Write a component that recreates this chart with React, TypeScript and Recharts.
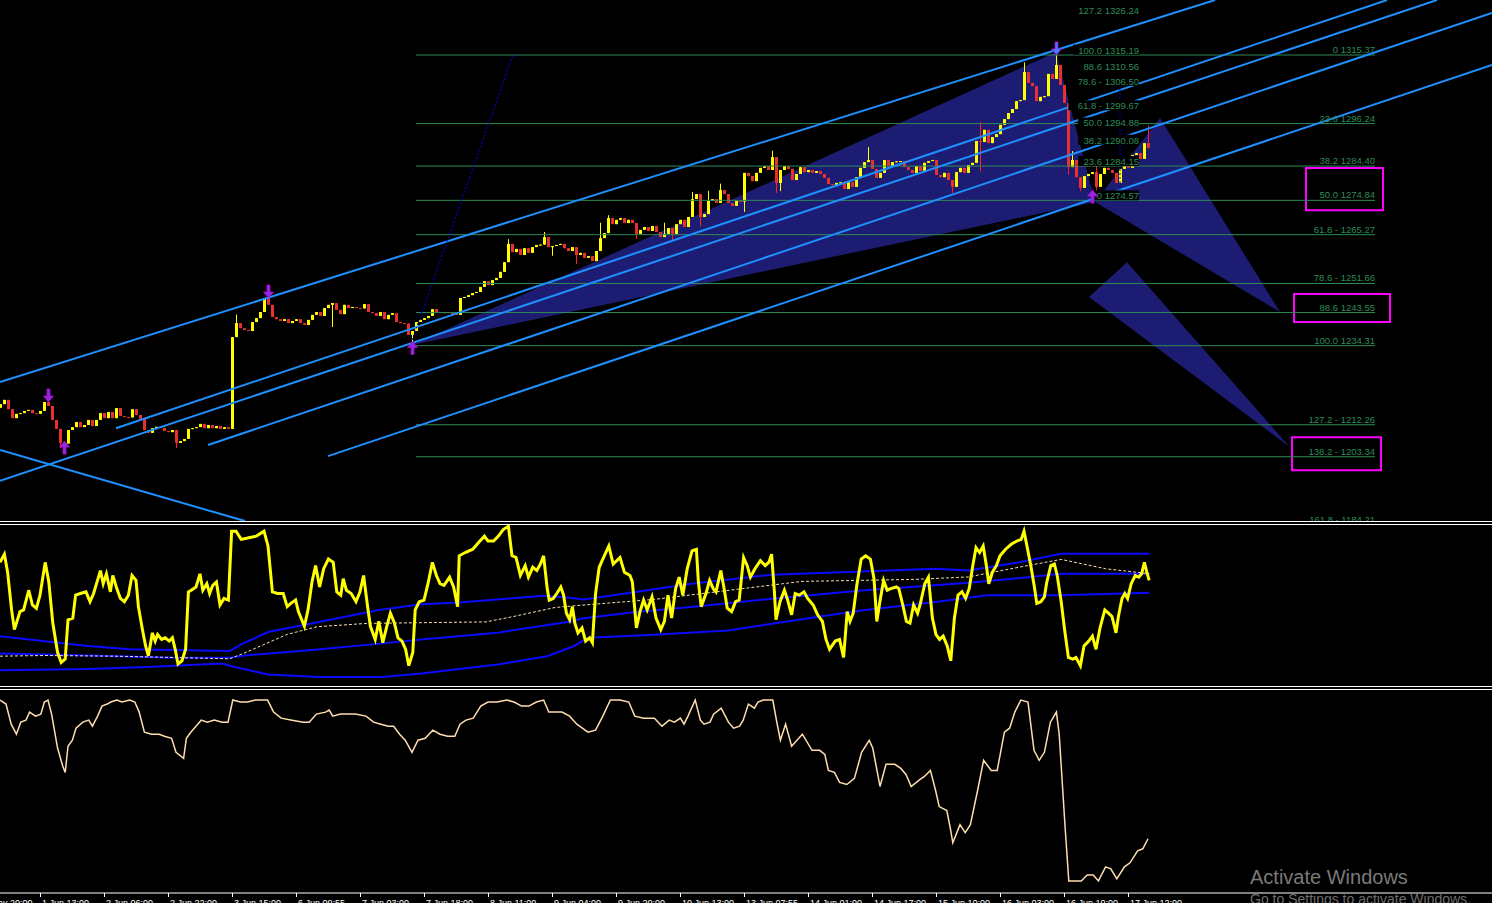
import { ComposedChart, Bar, Line, XAxis, YAxis, ReferenceLine, ReferenceArea, ReferenceDot } from 'recharts';

const FONT = '"Liberation Sans", Arial, sans-serif';

// ---------- price panel: one H1 candle every 4px ----------
const firstOpen = 1217.0;
const closes = [
  1218.0, 1219.2, 1216.6, 1214.1, 1215.3, 1215.5, 1216.1, 1216.4, 1215.5, 1215.3,
  1216.1, 1218.6, 1217.5, 1213.6, 1211.1, 1207.2, 1207.0, 1210.8, 1211.6, 1213.0,
  1211.6, 1212.2, 1213.6, 1211.9, 1213.6, 1215.5, 1214.1, 1215.8, 1214.1, 1216.9,
  1214.7, 1214.4, 1214.3, 1216.6, 1215.0, 1213.9, 1210.8, 1210.0, 1211.3, 1211.7,
  1211.4, 1210.5, 1210.2, 1210.8, 1207.2, 1207.7, 1208.3, 1211.1, 1211.3, 1211.6,
  1212.5, 1211.3, 1212.2, 1211.3, 1211.9, 1211.1, 1211.6, 1211.1, 1236.7, 1240.6,
  1239.2, 1238.7, 1238.4, 1240.9, 1242.0, 1243.7, 1247.6, 1245.7, 1242.3, 1241.7,
  1241.2, 1241.7, 1240.6, 1241.2, 1241.7, 1240.6, 1240.1, 1241.5, 1242.9, 1243.7,
  1242.6, 1244.8, 1245.7, 1246.2, 1244.3, 1243.1, 1245.7, 1244.8, 1245.1, 1244.8,
  1244.7, 1245.9, 1243.7, 1243.4, 1242.6, 1243.7, 1241.7, 1242.9, 1243.4, 1240.9,
  1240.6, 1240.5, 1237.3, 1238.4, 1240.9, 1241.5, 1242.0, 1242.6, 1244.5, 1243.7,
  1243.4, 1243.7, 1243.4, 1243.3, 1242.9, 1247.6, 1247.9, 1248.4, 1249.0, 1249.3,
  1250.7, 1252.3, 1251.2, 1252.6, 1253.2, 1254.9, 1257.6, 1262.7, 1260.4, 1261.3,
  1259.6, 1261.5, 1260.2, 1261.8, 1262.4, 1262.5, 1264.6, 1261.8, 1262.1, 1262.4,
  1262.7, 1261.5, 1260.7, 1261.8, 1259.6, 1260.2, 1258.8, 1259.3, 1257.9, 1260.7,
  1264.3, 1265.7, 1269.9, 1268.2, 1269.4, 1269.9, 1268.5, 1269.4, 1268.5, 1265.5,
  1266.6, 1267.4, 1266.3, 1267.7, 1266.0, 1264.6, 1265.5, 1267.1, 1265.5, 1268.2,
  1269.4, 1267.4, 1270.2, 1275.2, 1276.6, 1270.2, 1271.0, 1274.7, 1275.2, 1274.1,
  1277.7, 1276.6, 1274.1, 1273.3, 1274.7, 1274.5, 1282.5, 1281.6, 1280.2, 1282.5,
  1283.9, 1284.4, 1283.3, 1286.9, 1279.7, 1283.3, 1284.4, 1283.6, 1280.5, 1282.2,
  1284.1, 1282.7, 1283.3, 1282.5, 1283.0, 1282.2, 1281.1, 1279.4, 1279.1, 1279.7,
  1279.9, 1278.0, 1279.9, 1278.6, 1281.3, 1283.9, 1285.5, 1286.1, 1283.6, 1281.1,
  1282.5, 1286.1, 1284.4, 1285.5, 1285.7, 1285.8, 1284.1, 1283.3, 1282.5, 1284.4,
  1283.0, 1285.3, 1285.8, 1286.1, 1281.9, 1281.3, 1282.5, 1280.5, 1278.6, 1282.7,
  1283.9, 1282.5, 1284.7, 1285.3, 1291.4, 1291.1, 1294.5, 1290.8, 1292.5, 1293.3,
  1295.9, 1297.5, 1299.2, 1300.3, 1302.5, 1302.8, 1310.6, 1307.6, 1306.7, 1302.5,
  1303.7, 1303.9, 1310.1, 1308.7, 1312.6, 1307.0, 1302.0, 1284.1, 1286.1, 1281.3,
  1278.3, 1281.6, 1282.2, 1282.7, 1278.6, 1282.2, 1283.9, 1283.3, 1282.5, 1279.7,
  1283.6, 1285.0, 1283.9, 1287.5, 1288.0, 1286.4, 1290.8, 1289.4,
];
// shadows that stick out of the body: [bar, price]
const highShadows: [number, number][] = [
  [12, 1220.5], [59, 1243.0], [67, 1249.3], [127, 1264.0], [136, 1266.0], [150, 1268.6],
  [152, 1270.7], [166, 1268.6], [173, 1277.2], [177, 1277.5], [180, 1279.5], [193, 1288.7],
  [217, 1289.7], [245, 1296.7], [256, 1313.3], [264, 1315.3], [268, 1288.6], [274, 1286.9],
  [287, 1295.7],
];
const lowShadows: [number, number][] = [
  [15, 1205.8], [44, 1205.8], [83, 1239.5], [103, 1234.3], [138, 1259.4], [144, 1257.1],
  [159, 1264.1], [168, 1263.5], [175, 1267.6], [186, 1271.6], [194, 1276.9], [195, 1277.4],
  [238, 1276.9], [245, 1282.9], [267, 1282.0], [270, 1277.4], [274, 1274.6], [286, 1287.0],
];

const fibLevels = [1315.37, 1296.24, 1284.4, 1274.84, 1265.27, 1251.66, 1243.55, 1234.31, 1212.26, 1203.34, 1184.21];
const fibTexts = ['0 1315.37', '23.6 1296.24', '38.2 1284.40', '50.0 1274.84', '61.8 - 1265.27', '78.6 - 1251.66',
  '88.6 1243.55', '100.0 1234.31', '127.2 - 1212.26', '138.2 - 1203.34', '161.8 - 1184.21'];
const swingLevels = [1326.24, 1315.19, 1310.56, 1306.5, 1299.67, 1294.88, 1290.08, 1284.16, 1274.57];
const swingTexts = ['127.2 1326.24', '100.0 1315.19', '88.6 1310.56', '78.6 - 1306.50', '61.8 - 1299.67',
  '50.0 1294.88', '38.2 1290.08', '23.6 1284.15', '0 1274.57'];

// channel lines [bar1, price1, bar2, price2]
const channels: [number, number, number, number][] = [
  [0, 1224.2, 303.75, 1330.7],
  [29, 1211.3, 346.75, 1330.7],
  [0, 1196.6, 359.25, 1330.7],
  [52, 1206.6, 373, 1327.1],
  [82, 1203.5, 373, 1312.6],
  [0, 1205.2, 61.25, 1185.4],
];
const harmonics: [number, number][][] = [
  [[103, 1234.5], [264, 1316.2], [273.75, 1274.4]],
  [[273.75, 1274.4], [290, 1297.8], [320, 1243.7]],
  [[272.25, 1247.9], [281.75, 1257.6], [322.5, 1206.0]],
];
const targetBoxes: [number, number, number, number][] = [
  [326.5, 1272.1, 345.75, 1283.85],
  [323.5, 1240.9, 347.5, 1248.7],
  [323, 1199.6, 345.25, 1208.8],
];
const pivots = [
  { bar: 12, price: 1218.6, dir: 'down', color: '#8a2be2' },
  { bar: 16, price: 1207.7, dir: 'up', color: '#8a2be2' },
  { bar: 67, price: 1247.6, dir: 'down', color: '#8a2be2' },
  { bar: 103, price: 1235.5, dir: 'up', color: '#8a2be2' },
  { bar: 264, price: 1315.4, dir: 'down', color: '#3b7dff' },
  { bar: 273, price: 1277.7, dir: 'up', color: '#8a2be2' },
];

// ---------- oscillator panel ----------
const rsi: [number, number][] = [
  [0, 76], [1.1, 81], [1.9, 70], [2.9, 47], [3.6, 35], [5.0, 46], [5.9, 47], [7.2, 59], [8.1, 50], [9.1, 48],
  [10.0, 56], [11.3, 76], [12.2, 64], [13.2, 39], [14.4, 21], [15.3, 15], [16.3, 17], [17.0, 41], [18.2, 42], [18.9, 56],
  [20.1, 57], [21.5, 58], [22.5, 52], [23.4, 57], [25.1, 71], [25.8, 63], [26.6, 69], [27.6, 58], [28.2, 68], [29.2, 60],
  [30.1, 54], [31.1, 52], [32.1, 56], [33.0, 68], [34.0, 65], [34.6, 49], [35.6, 35], [36.4, 25], [37.1, 19], [38.1, 33],
  [38.8, 28], [39.4, 32], [40.4, 29], [41.3, 30], [42.3, 28], [43.1, 30], [43.8, 23], [44.5, 14], [45.5, 16], [46.4, 23],
  [47.1, 58], [47.8, 59], [49.0, 61], [50.0, 69], [50.7, 59], [51.7, 63], [52.4, 57], [53.2, 62], [54.1, 64], [55.0, 50],
  [56.0, 54], [57.1, 53], [57.9, 95], [59.0, 95], [60.3, 90], [62.2, 91], [64.1, 92], [66.0, 95], [67.0, 86], [68.1, 58],
  [69.4, 57], [70.8, 57], [71.8, 49], [72.7, 51], [73.9, 53], [74.6, 46], [76.1, 37], [77.0, 47], [78.0, 64], [78.9, 74],
  [79.9, 61], [80.9, 72], [82.1, 78], [83.3, 76], [84.2, 58], [85.2, 56], [85.8, 66], [86.6, 59], [87.8, 57], [89.0, 52],
  [90.0, 58], [90.9, 68], [91.9, 49], [92.6, 37], [93.8, 29], [94.7, 40], [95.7, 27], [96.7, 37], [97.6, 45], [98.6, 39],
  [99.5, 30], [100.5, 28], [101.4, 23], [102.2, 13], [103.2, 21], [103.8, 47], [104.8, 52], [106.0, 53], [107.0, 63], [108.1, 76],
  [109.1, 68], [110.0, 63], [111.0, 62], [112.4, 67], [113.4, 61], [114.4, 49], [114.8, 80], [116.3, 82], [118.2, 84], [119.6, 88],
  [121.1, 92], [122.0, 89], [123.4, 89], [124.6, 92], [125.8, 96], [127.1, 98], [128.0, 80], [129.0, 79], [130.1, 68], [131.3, 74],
  [132.1, 67], [133.2, 73], [134.2, 71], [135.1, 75], [135.9, 80], [136.8, 60], [137.3, 53], [138.3, 54], [139.2, 57], [140.2, 61],
  [140.9, 56], [141.6, 45], [142.4, 41], [143.1, 49], [143.7, 39], [144.5, 33], [145.5, 36], [146.4, 28], [147.4, 30], [148.1, 27],
  [148.9, 57], [149.8, 73], [150.7, 78], [152.2, 86], [153.3, 75], [155.0, 79], [156.1, 70], [157.5, 68], [158.1, 64], [159.1, 36],
  [160.0, 46], [160.9, 53], [161.8, 47], [163.0, 55], [164.0, 42], [165.2, 35], [166.1, 40], [167.0, 56], [167.9, 42], [168.9, 60],
  [169.8, 67], [170.7, 56], [171.8, 72], [173.0, 83], [174.1, 84], [174.6, 64], [175.3, 49], [176.5, 57], [177.4, 65], [178.3, 60],
  [179.0, 58], [180.2, 71], [181.1, 59], [181.8, 48], [182.9, 46], [183.9, 52], [184.8, 53], [185.9, 79], [186.8, 74], [187.6, 67],
  [188.7, 72], [190.1, 77], [191.3, 74], [192.2, 76], [192.9, 81], [193.6, 58], [194.0, 41], [195.0, 52], [196.1, 59], [196.8, 54],
  [197.9, 44], [198.8, 57], [199.8, 56], [201.0, 58], [201.9, 54], [203.3, 50], [204.4, 44], [205.6, 40], [206.5, 29], [207.4, 23],
  [208.8, 28], [209.9, 29], [210.9, 18], [211.8, 46], [212.5, 40], [213.3, 45], [214.2, 62], [215.3, 78], [216.4, 80], [217.6, 78],
  [218.5, 66], [219.2, 40], [220.1, 54], [220.9, 65], [221.8, 59], [222.7, 60], [224.1, 61], [224.7, 60], [225.7, 50], [226.6, 40],
  [227.5, 39], [228.4, 50], [229.4, 45], [230.1, 51], [231.2, 63], [232.1, 67], [233.1, 42], [234.0, 32], [234.9, 29], [235.8, 31],
  [236.8, 25], [237.7, 16], [238.6, 42], [239.5, 56], [240.5, 58], [241.4, 54], [242.3, 60], [243.2, 74], [244.0, 85], [244.9, 82],
  [245.8, 86], [246.6, 74], [247.2, 63], [248.1, 70], [249.1, 74], [250.0, 80], [251.4, 84], [252.8, 87], [254.2, 89], [255.3, 90],
  [256.0, 95], [256.9, 84], [257.7, 74], [258.6, 61], [259.2, 51], [260.2, 52], [261.1, 55], [261.7, 64], [262.7, 74], [263.6, 75],
  [264.3, 68], [265.3, 52], [266.2, 34], [267.1, 18], [268.2, 17], [269.0, 18], [270.1, 13], [271.0, 25], [272.2, 28], [273.1, 31],
  [274.0, 23], [275.0, 36], [276.2, 47], [277.1, 45], [278.0, 43], [279.0, 33], [279.6, 43], [280.5, 54], [281.2, 57], [281.9, 54],
  [282.8, 63], [283.8, 68], [284.7, 67], [285.4, 69], [286.1, 76], [286.7, 70], [287.3, 65],
];
const bandUpper: [number, number][] = [
  [0, 31], [22, 25], [32.5, 23], [57.4, 22], [61.2, 27], [67, 33.5], [78.5, 39], [94.7, 47], [105.3, 50.5], [114.8, 51.5],
  [127.3, 54], [135.9, 55.6], [141.6, 54.6], [146, 53.4], [158.9, 57.9], [172.8, 63], [193.1, 68.5], [215.3, 70.5],
  [233.8, 72.1], [242.1, 71.1], [255.1, 76.2], [265.3, 81.3], [287.3, 81.3],
];
const bandMiddle: [number, number][] = [
  [0, 20.4], [22, 19.2], [44, 17.8], [57.4, 17.8], [61.2, 19.2], [79.4, 22.9], [95.7, 26.6], [105.3, 29], [124.4, 33.1],
  [143.5, 40.3], [145, 41.6], [158.9, 45.7], [172.8, 48.8], [193.1, 53.8], [215.3, 58.9], [233.8, 62], [242.1, 63.6],
  [255.1, 66.4], [265.3, 69.1], [287.3, 69.1],
];
const bandLower: [number, number][] = [
  [0, 10.2], [22, 11], [38.3, 12.3], [55.5, 14.3], [58.4, 12.3], [67, 7.6], [79.4, 6.1], [95.7, 6.1], [105.3, 8.2],
  [124.4, 13.7], [136.8, 18.8], [143.5, 25], [147, 30], [163.5, 31.9], [182, 34.5], [204.2, 42.7], [215.3, 46.7],
  [233.8, 51.8], [246.8, 55.9], [265.3, 55.9], [287.3, 57.5],
];
const signalLine: [number, number][] = [
  [0, 18.8], [11.5, 19.2], [28.7, 18.8], [57.4, 17.2], [61.2, 20.8], [67, 27], [71.8, 32.1], [79.4, 36.8], [91.9, 38.8],
  [105.3, 39.2], [121.5, 39.7], [128.2, 42.9], [138.8, 48.5], [145, 49.8], [163.5, 53.4], [182, 58.9], [200.5, 64.4],
  [228.3, 65.6], [242.1, 67.1], [255.1, 73.2], [265.3, 77.8], [276.4, 72.1], [287.3, 69.1],
];

// ---------- lower panel ----------
const momentum: [number, number][] = [
  [0, 95], [1.5, 93], [2.8, 83], [4.1, 78], [5.2, 84], [6.5, 85], [7.4, 89], [8.9, 87], [10.2, 88], [11.1, 94],
  [12.0, 95], [12.9, 88], [14.4, 71], [15.7, 62], [16.3, 59], [17.0, 72], [18.1, 75], [19.0, 81], [20.7, 84], [22.2, 85],
  [23.1, 82], [24.4, 87], [25.5, 92], [26.8, 93], [27.7, 94], [29.2, 95], [30.5, 94], [32.4, 95], [33.7, 94], [34.8, 89],
  [36.1, 79], [37.9, 78], [39.8, 78], [41.1, 77], [42.9, 76], [44.0, 69], [45.9, 66], [46.6, 76], [47.7, 79], [49.0, 82],
  [50.3, 85], [51.8, 84], [53.6, 85], [55.5, 84], [57.0, 84], [58.2, 95], [60.1, 94], [61.9, 94], [63.8, 95], [66.9, 95],
  [68.4, 89], [70.3, 86], [73.0, 85], [75.8, 84], [77.3, 84], [79.1, 88], [81.4, 89], [82.3, 90], [83.2, 87], [85.1, 88],
  [86.5, 88], [88.8, 88], [91.5, 87], [93.4, 84], [95.2, 83], [97.1, 82], [98.4, 82], [99.9, 78], [101.3, 75], [103.0, 69],
  [104.5, 75], [106.3, 76], [108.2, 80], [110.0, 78], [111.9, 77], [113.7, 77], [115.0, 83], [116.5, 85], [118.3, 86], [120.2, 92],
  [122.0, 94], [124.3, 94], [126.7, 95], [128.5, 94], [130.4, 92], [132.2, 92], [134.1, 94], [135.9, 95], [137.2, 89], [139.1, 89],
  [140.5, 89], [142.4, 87], [144.2, 83], [147.0, 79], [148.9, 80], [150.7, 87], [152.6, 95], [155.0, 95], [157.2, 94], [158.7, 87],
  [160.9, 86], [163.6, 86], [165.5, 82], [167.3, 85], [168.6, 84], [170.1, 86], [171.0, 83], [172.0, 87], [173.8, 95], [175.1, 85],
  [176.0, 83], [177.5, 84], [178.4, 88], [180.3, 91], [182.1, 84], [183.4, 81], [184.9, 82], [185.8, 85], [187.1, 93], [188.6, 91],
  [189.5, 94], [190.8, 95], [193.2, 95], [194.2, 84], [195.1, 75], [196.4, 83], [197.9, 72], [200.6, 78], [203.0, 70], [204.9, 70],
  [206.2, 68], [207.1, 60], [208.6, 59], [209.9, 54], [211.7, 53], [213.6, 56], [215.4, 69], [217.3, 75], [218.2, 71], [220.0, 52],
  [221.5, 63], [223.7, 63], [225.2, 61], [226.5, 58], [227.8, 52], [229.7, 55], [231.1, 57], [232.6, 60], [233.9, 50], [234.8, 42],
  [236.7, 40], [237.6, 31], [238.2, 24], [240.0, 33], [241.3, 29], [242.6, 33], [244.5, 51], [245.9, 65], [247.8, 60], [249.3, 60],
  [251.1, 79], [252.4, 81], [253.7, 89], [255.2, 95], [257.0, 94], [258.5, 70], [259.8, 65], [261.1, 69], [262.6, 84], [264.1, 89],
  [264.8, 78], [266.3, 31], [267.2, 5], [270.3, 5], [271.8, 8], [273.3, 8], [274.6, 5], [276.4, 12], [277.7, 11], [279.2, 6],
  [281.1, 12], [282.5, 14], [284.4, 20], [285.7, 21], [287.0, 26],
];

const tickBars = [-6, 10, 26, 42, 58, 74, 90, 106, 122, 138, 154, 170, 186, 202, 218, 234, 250, 266, 282];
const tickLabels = ['31 May 20:00', '1 Jun 13:00', '2 Jun 06:00', '2 Jun 22:00', '3 Jun 15:00', '6 Jun 09:55', '7 Jun 03:00',
  '7 Jun 18:00', '8 Jun 11:00', '9 Jun 04:00', '9 Jun 20:00', '10 Jun 13:00', '13 Jun 07:55', '14 Jun 01:00', '14 Jun 17:00',
  '15 Jun 10:00', '16 Jun 03:00', '16 Jun 19:00', '17 Jun 12:00'];

const candles = closes.map((c, i) => {
  const o = i === 0 ? firstOpen : closes[i - 1];
  const hs = highShadows.find((s) => s[0] === i);
  const ls = lowShadows.find((s) => s[0] === i);
  const h = Math.max(o, c, hs ? hs[1] : -Infinity);
  const l = Math.min(o, c, ls ? ls[1] : Infinity);
  return { i, o, c, h, l, range: [l, h] };
});

const mergeSeries = (series: Record<string, [number, number][]>) => {
  const rows: any[] = [];
  Object.entries(series).forEach(([key, pts]) => pts.forEach(([x, v]) => rows.push({ x, [key]: v })));
  return rows.sort((a, b) => a.x - b.x);
};
const oscRows = mergeSeries({ rsi, up: bandUpper, mid: bandMiddle, low: bandLower, sig: signalLine });
const momRows = momentum.map(([x, v]) => ({ x, v }));

const Candle = (props: any) => {
  const { x, y, width, height, payload } = props;
  if (x == null || y == null || !payload) return null;
  const { o, c, h, l } = payload;
  const k = h - l > 0 ? height / (h - l) : 0;
  const cx = Math.round(x + width / 2);
  const yOf = (p: number) => y + (h - p) * k;
  const bull = c >= o;
  const top = yOf(Math.max(o, c));
  const bot = yOf(Math.min(o, c));
  const col = bull ? '#ffff00' : '#ff1f1f';
  return (
    <g>
      <line x1={cx + 0.5} x2={cx + 0.5} y1={y} y2={y + Math.max(height, 1)} stroke={col} strokeWidth={1} />
      <rect x={cx - 1} y={top} width={3} height={Math.max(1, bot - top)} fill={bull ? '#ffff00' : '#e83030'} />
    </g>
  );
};

const triangleShape = (pts: [number, number][]) => (props: any) => {
  const { x, y, width, height } = props;
  if (x == null || y == null) return null;
  const xs = pts.map((p) => p[0]);
  const ys = pts.map((p) => p[1]);
  const x0 = Math.min(...xs), x1 = Math.max(...xs), y0 = Math.min(...ys), y1 = Math.max(...ys);
  const d = pts
    .map(([px, py]) => `${x + ((px - x0) / (x1 - x0)) * width},${y + ((y1 - py) / (y1 - y0)) * height}`)
    .join(' ');
  return <polygon points={d} fill="#1c1c72" />;
};

const fibText = (text: string, bg: boolean) => (props: any) => {
  const { cx, cy } = props;
  if (cx == null || cy == null) return null;
  const w = text.length * 4.9 + 2;
  return (
    <g>
      {bg && <rect x={cx - w} y={cy - 11} width={w} height={10} fill="#000" />}
      <text x={cx} y={cy - 2} textAnchor="end" fill="#2e8b57" fontSize={9.5} fontFamily={FONT}>{text}</text>
    </g>
  );
};

const arrowShape = (dir: string, color: string) => (props: any) => {
  const { cx, cy } = props;
  if (cx == null || cy == null) return null;
  const s = dir === 'down' ? -1 : 1;
  const pts = [[0, 0], [-5, 6], [-1.5, 6], [-1.5, 13], [1.5, 13], [1.5, 6], [5, 6]]
    .map(([dx, dy]) => `${cx + 0.5 + dx},${cy + dy * s}`)
    .join(' ');
  return <polygon points={pts} fill={color} stroke="#c000d0" strokeWidth={0.8} />;
};

const DateTick = (props: any) => {
  const { x, y, payload } = props;
  const idx = tickBars.indexOf(payload.value);
  return (
    <g>
      <line x1={x + 0.5} x2={x + 0.5} y1={y} y2={y + 4} stroke="#ffffff" />
      <text x={x + 2} y={y + 12.5} fill="#ffffff" fontSize={9} fontFamily={FONT}>{tickLabels[idx]}</text>
    </g>
  );
};

const sep = (top: number) => (
  <div style={{ position: 'absolute', left: 0, top, width: 1492, height: 1, background: '#ffffff' }} />
);

export default function App() {
  return (
    <div style={{ position: 'fixed', left: 0, top: 0, width: 1492, height: 903, background: '#000', overflow: 'hidden', fontFamily: FONT }}>
      <div style={{ position: 'absolute', left: 0, top: 0 }}>
        <ComposedChart width={1492} height={521} data={candles} margin={{ top: 0, right: 0, bottom: 0, left: 0 }}>
          <XAxis dataKey="i" type="number" domain={[0, 373]} allowDataOverflow hide />
          <YAxis type="number" domain={[1185.42, 1330.71]} allowDataOverflow hide />
          {harmonics.map((pts, k) => (
            <ReferenceArea
              key={'h' + k}
              x1={Math.min(...pts.map((p) => p[0]))}
              x2={Math.max(...pts.map((p) => p[0]))}
              y1={Math.min(...pts.map((p) => p[1]))}
              y2={Math.max(...pts.map((p) => p[1]))}
              ifOverflow="visible"
              shape={triangleShape(pts)}
            />
          ))}
          {fibLevels.map((lv, k) => (
            <ReferenceLine key={'f' + k} segment={[{ x: 104, y: lv }, { x: 343.75, y: lv }]} stroke="#2e8b57" strokeWidth={1} ifOverflow="visible" />
          ))}
          <Bar dataKey="range" barSize={3} shape={Candle} isAnimationActive={false} />
          {channels.map(([a, p, b, q], k) => (
            <ReferenceLine key={'c' + k} segment={[{ x: a, y: p }, { x: b, y: q }]} stroke="#1e90ff" strokeWidth={2} ifOverflow="visible" />
          ))}
          <ReferenceLine segment={[{ x: 103, y: 1235.9 }, { x: 128.25, y: 1315.4 }]} stroke="#0000ff" strokeDasharray="2 2" ifOverflow="visible" />
          <ReferenceLine segment={[{ x: 280, y: 1307.0 }, { x: 280, y: 1277.7 }]} stroke="#0000ff" strokeDasharray="2 2" ifOverflow="visible" />
          {targetBoxes.map(([a, p, b, q], k) => (
            <ReferenceArea key={'b' + k} x1={a} x2={b} y1={p} y2={q} fill="none" fillOpacity={0} stroke="#ff00ff" strokeWidth={2} ifOverflow="visible" />
          ))}
          {fibLevels.map((lv, k) => (
            <ReferenceDot key={'ft' + k} x={343.75} y={lv} r={1} ifOverflow="visible" shape={fibText(fibTexts[k], false)} />
          ))}
          {swingLevels.map((lv, k) => (
            <ReferenceDot key={'st' + k} x={284.75} y={lv} r={1} ifOverflow="visible" shape={fibText(swingTexts[k], true)} />
          ))}
          {pivots.map((pv, k) => (
            <ReferenceDot key={'p' + k} x={pv.bar} y={pv.price} r={1} ifOverflow="visible" shape={arrowShape(pv.dir, pv.color)} />
          ))}
        </ComposedChart>
      </div>

      <div style={{ position: 'absolute', left: 0, top: 523 }}>
        <ComposedChart width={1492} height={164} data={oscRows} margin={{ top: 0, right: 0, bottom: 0, left: 0 }}>
          <XAxis dataKey="x" type="number" domain={[0, 373]} allowDataOverflow hide />
          <YAxis type="number" domain={[0, 100]} allowDataOverflow hide />
          <Line dataKey="up" stroke="#0a0aff" strokeWidth={2} dot={false} activeDot={false} connectNulls isAnimationActive={false} />
          <Line dataKey="mid" stroke="#0a0aff" strokeWidth={2} dot={false} activeDot={false} connectNulls isAnimationActive={false} />
          <Line dataKey="low" stroke="#0a0aff" strokeWidth={2} dot={false} activeDot={false} connectNulls isAnimationActive={false} />
          <Line dataKey="sig" stroke="#f5deb3" strokeWidth={1} strokeDasharray="3 2" dot={false} activeDot={false} connectNulls isAnimationActive={false} />
          <Line dataKey="rsi" stroke="#ffff00" strokeWidth={3} dot={false} activeDot={false} connectNulls isAnimationActive={false} />
        </ComposedChart>
      </div>

      <div style={{ position: 'absolute', left: 0, top: 690 }}>
        <ComposedChart width={1492} height={213} data={momRows} margin={{ top: 0, right: 0, bottom: 0, left: 0 }}>
          <XAxis
            dataKey="x"
            type="number"
            domain={[0, 373]}
            allowDataOverflow
            ticks={tickBars}
            interval={0}
            height={10}
            tickSize={0}
            tickMargin={0}
            axisLine={{ stroke: '#ffffff' }}
            tickLine={false}
            tick={<DateTick />}
          />
          <YAxis type="number" domain={[-1, 100]} allowDataOverflow hide />
          <Line dataKey="v" stroke="#ffdead" strokeWidth={1.5} dot={false} activeDot={false} isAnimationActive={false} />
        </ComposedChart>
      </div>

      {sep(521)}
      {sep(524)}
      {sep(686)}
      {sep(689)}

      <div style={{ position: 'absolute', left: 1250, top: 867, fontSize: 20, lineHeight: '20px', color: '#7a7a7a', whiteSpace: 'nowrap' }}>
        Activate Windows
      </div>
      <div style={{ position: 'absolute', left: 1250, top: 892, fontSize: 14, lineHeight: '14px', color: '#6e6e6e', whiteSpace: 'nowrap' }}>
        Go to Settings to activate Windows.
      </div>
    </div>
  );
}
